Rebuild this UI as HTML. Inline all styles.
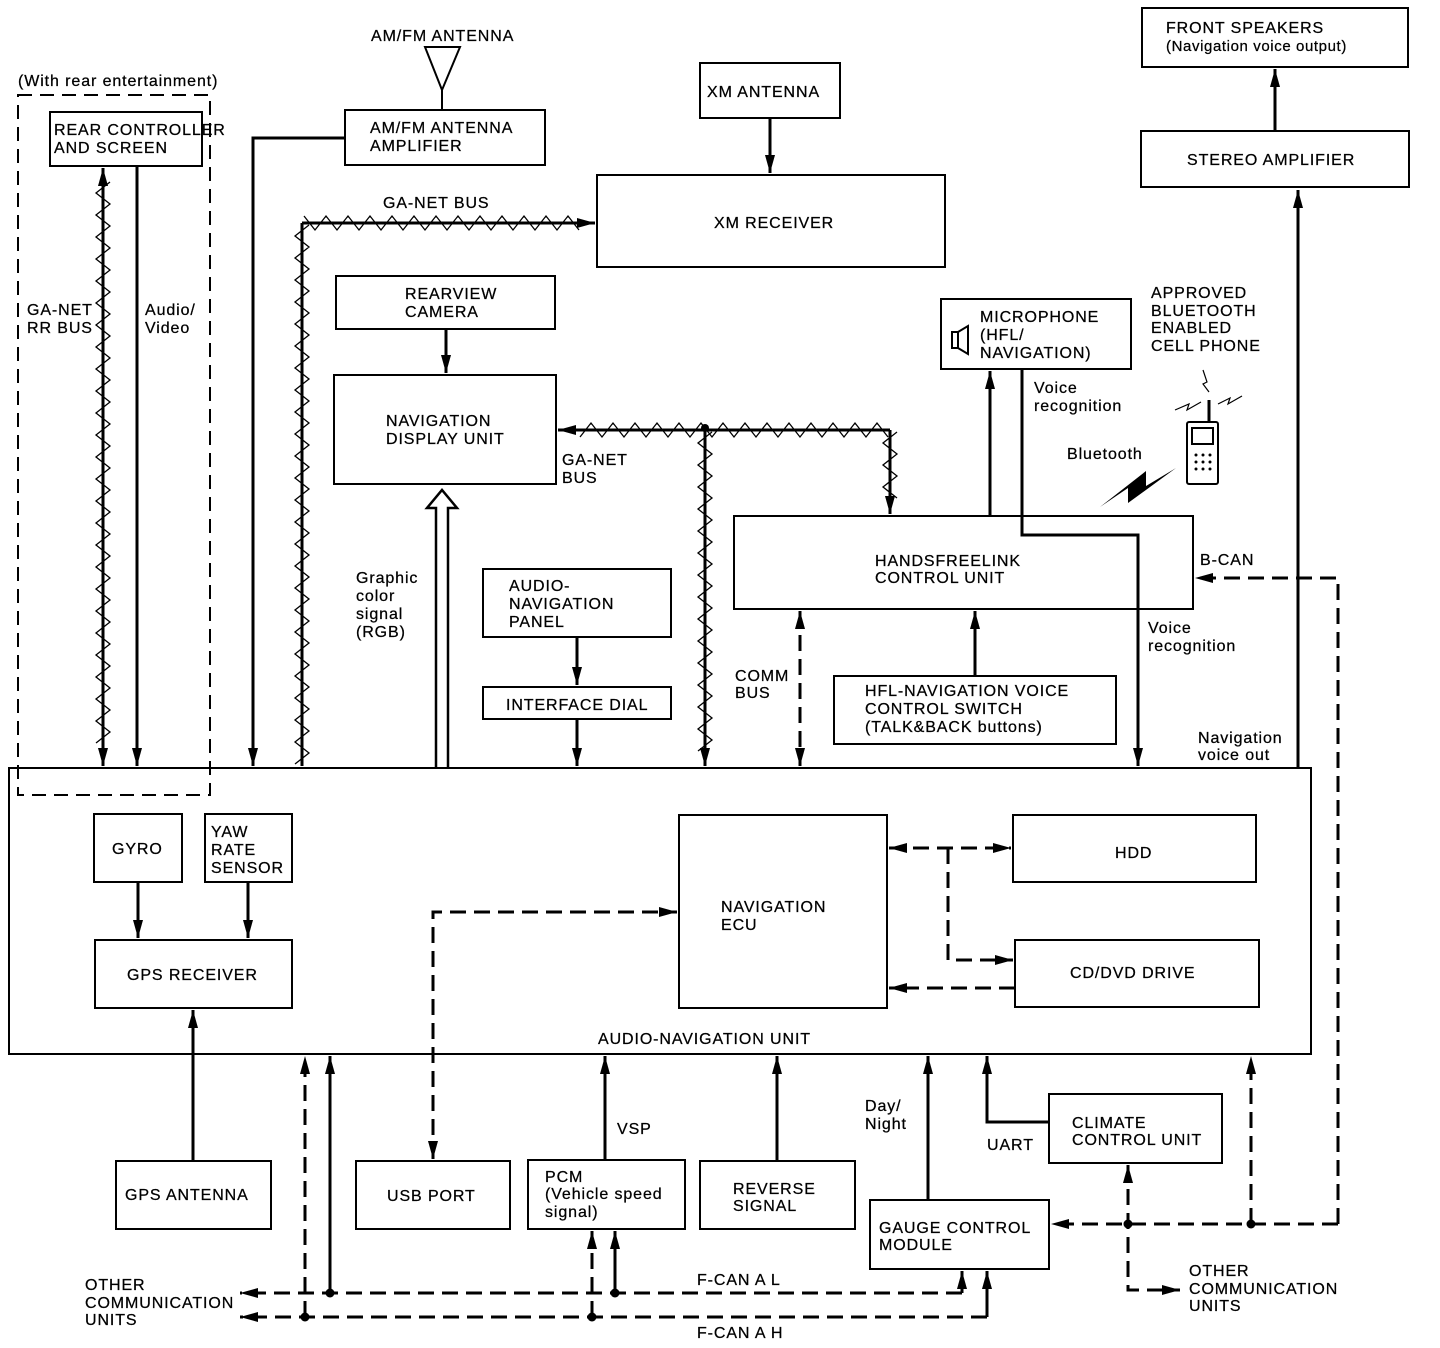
<!DOCTYPE html>
<html><head><meta charset="utf-8"><style>
html,body{margin:0;padding:0;background:#fff}
svg{display:block}
text{font-family:"Liberation Sans",Arial,sans-serif;font-size:16px;fill:#000;letter-spacing:0.9px;stroke:#000;stroke-width:0.25px}
</style></head><body>
<svg id="s" width="1440" height="1348" viewBox="0 0 1440 1348" xmlns="http://www.w3.org/2000/svg">
<defs>
<marker id="b" viewBox="0 0 10 10" refX="10" refY="5" markerWidth="18" markerHeight="10" orient="auto-start-reverse" markerUnits="userSpaceOnUse" preserveAspectRatio="none"><path d="M0,0 L10,5 L0,10 z"/></marker>
</defs>
<g fill="none" stroke="#000" stroke-width="2">
<rect x="345" y="110" width="200" height="55"/>
<rect x="50" y="112" width="152" height="54"/>
<rect x="700" y="63" width="140" height="55"/>
<rect x="597" y="175" width="348" height="92"/>
<rect x="336" y="276" width="219" height="53"/>
<rect x="334" y="375" width="222" height="109"/>
<rect x="483" y="569" width="188" height="68"/>
<rect x="483" y="687" width="188" height="32"/>
<rect x="734" y="516" width="459" height="93"/>
<rect x="834" y="676" width="282" height="68"/>
<rect x="941" y="299" width="190" height="70"/>
<rect x="1142" y="8" width="266" height="59"/>
<rect x="1141" y="131" width="268" height="56"/>
<rect x="9" y="768" width="1302" height="286"/>
<rect x="94" y="814" width="88" height="68"/>
<rect x="205" y="814" width="87" height="68"/>
<rect x="95" y="940" width="197" height="68"/>
<rect x="679" y="815" width="208" height="193"/>
<rect x="1013" y="815" width="243" height="67"/>
<rect x="1015" y="940" width="244" height="67"/>
<rect x="116" y="1161" width="155" height="68"/>
<rect x="356" y="1161" width="154" height="68"/>
<rect x="528" y="1160" width="157" height="69"/>
<rect x="700" y="1161" width="155" height="68"/>
<rect x="870" y="1200" width="179" height="69"/>
<rect x="1049" y="1094" width="173" height="69"/>
<path d="M18,95 H210 V795 H18 Z" stroke-dasharray="14,8"/>
<path d="M425,47 H460 L442,90 Z M442,90 V110"/>
<g stroke-width="3">
<path d="M345,138 H253 V766" marker-end="url(#b)"/>
<path d="M137,166 V766" marker-end="url(#b)"/>
<path d="M770,118 V173" marker-end="url(#b)"/>
<path d="M446,329 V373" marker-end="url(#b)"/>
<path d="M577,637 V685" marker-end="url(#b)"/>
<path d="M577,719 V766" marker-end="url(#b)"/>
<path d="M975,676 V611" marker-end="url(#b)"/>
<path d="M990,516 V371" marker-end="url(#b)"/>
<path d="M1022,369 V535 H1138 V766" marker-end="url(#b)"/>
<path d="M1275,131 V69" marker-end="url(#b)"/>
<path d="M1298,768 V190" marker-end="url(#b)"/>
<path d="M138,882 V938" marker-end="url(#b)"/>
<path d="M248,882 V938" marker-end="url(#b)"/>
<path d="M193,1161 V1010" marker-end="url(#b)"/>
<path d="M605,1160 V1056" marker-end="url(#b)"/>
<path d="M777,1161 V1056" marker-end="url(#b)"/>
<path d="M928,1200 V1056" marker-end="url(#b)"/>
<path d="M1049,1122 H987 V1056" marker-end="url(#b)"/>
<path d="M330,1293 V1056" marker-end="url(#b)"/>
<path d="M615,1293 V1231" marker-end="url(#b)"/>
</g>
<g stroke-width="3" stroke-dasharray="16,8">
<path d="M800,611 V766" marker-start="url(#b)" marker-end="url(#b)"/>
<path d="M1338,1224 V578 H1195" marker-end="url(#b)"/>
<path d="M889,848 H1011" marker-start="url(#b)" marker-end="url(#b)"/>
<path d="M948,848 V960 H1013" marker-end="url(#b)"/>
<path d="M1015,988 H889" marker-end="url(#b)"/>
<path d="M433,1159 V912 H677" marker-start="url(#b)" marker-end="url(#b)"/>
<path d="M962,1293 H240" marker-end="url(#b)"/>
<path d="M962,1293 V1271" stroke-dasharray="none" marker-end="url(#b)"/>
<path d="M987,1317 H240" marker-end="url(#b)"/>
<path d="M987,1317 V1271" stroke-dasharray="none" marker-end="url(#b)"/>
<path d="M305,1317 V1056" marker-end="url(#b)"/>
<path d="M592,1317 V1231" marker-end="url(#b)"/>
<path d="M1338,1224 H1051" marker-end="url(#b)"/>
<path d="M1251,1224 V1056" marker-end="url(#b)"/>
<path d="M1128,1165 V1290 H1180" marker-start="url(#b)" marker-end="url(#b)"/>
</g>
<path d="M436,768 V508 H427 L442,490 L457,508 H448 V768" stroke-width="2.5"/>
<path d="M952,332 h6 v16 h-6 z M958,332 l10,-6 v28 l-10,-6"/>
<rect x="1187" y="422" width="31" height="62" rx="2"/>
<rect x="1192" y="428" width="21" height="16"/>
<path d="M1209,400 V422" stroke-width="3"/>
<path d="M1175,410 l14,-6 -2,6 14,-8 M1218,404 l12,-6 -2,6 14,-8 M1203,370 l4,12 -4,2 6,8" stroke-width="1.2"/>
</g>
<g fill="#000">
<path d="M1100,507 L1128,488 L1128,503 L1176,468 L1146,486 L1146,471 Z"/>
<circle cx="705" cy="428" r="4"/>
<circle cx="330" cy="1293" r="4.5"/><circle cx="305" cy="1317" r="4.5"/>
<circle cx="615" cy="1293" r="4.5"/><circle cx="592" cy="1317" r="4.5"/>
<circle cx="1128" cy="1224" r="4.5"/><circle cx="1251" cy="1224" r="4.5"/>
<circle cx="1196" cy="455" r="1.5"/><circle cx="1203" cy="455" r="1.5"/><circle cx="1210" cy="455" r="1.5"/><circle cx="1196" cy="462" r="1.5"/><circle cx="1203" cy="462" r="1.5"/><circle cx="1210" cy="462" r="1.5"/><circle cx="1196" cy="469" r="1.5"/><circle cx="1203" cy="469" r="1.5"/><circle cx="1210" cy="469" r="1.5"/>
</g>
<g id="zz" fill="none" stroke="#000"></g>
<text x="371" y="41">AM/FM ANTENNA</text>
<text x="18" y="86">(With rear entertainment)</text>
<text x="370" y="133">AM/FM ANTENNA</text><text x="370" y="151">AMPLIFIER</text>
<text x="54" y="135">REAR CONTROLLER</text><text x="54" y="153">AND SCREEN</text>
<text x="707" y="97">XM ANTENNA</text>
<text x="714" y="228">XM RECEIVER</text>
<text x="383" y="208">GA-NET BUS</text>
<text x="27" y="315">GA-NET</text><text x="27" y="333">RR BUS</text>
<text x="145" y="315">Audio/</text><text x="145" y="333">Video</text>
<text x="405" y="299">REARVIEW</text><text x="405" y="317">CAMERA</text>
<text x="386" y="426">NAVIGATION</text><text x="386" y="444">DISPLAY UNIT</text>
<text x="562" y="465">GA-NET</text><text x="562" y="483">BUS</text>
<text x="356" y="583">Graphic</text><text x="356" y="601">color</text><text x="356" y="619">signal</text><text x="356" y="637">(RGB)</text>
<text x="509" y="591">AUDIO-</text><text x="509" y="609">NAVIGATION</text><text x="509" y="627">PANEL</text>
<text x="506" y="710">INTERFACE DIAL</text>
<text x="875" y="566">HANDSFREELINK</text><text x="875" y="583">CONTROL UNIT</text>
<text x="735" y="681">COMM</text><text x="735" y="698">BUS</text>
<text x="865" y="696">HFL-NAVIGATION VOICE</text><text x="865" y="714">CONTROL SWITCH</text><text x="865" y="732">(TALK&amp;BACK buttons)</text>
<text x="980" y="322">MICROPHONE</text><text x="980" y="340">(HFL/</text><text x="980" y="358">NAVIGATION)</text>
<text x="1034" y="393">Voice</text><text x="1034" y="411">recognition</text>
<text x="1067" y="459">Bluetooth</text>
<text x="1151" y="298">APPROVED</text><text x="1151" y="316">BLUETOOTH</text><text x="1151" y="333">ENABLED</text><text x="1151" y="351">CELL PHONE</text>
<text x="1166" y="33">FRONT SPEAKERS</text><text x="1166" y="51" style="font-size:15px;letter-spacing:0.6px">(Navigation voice output)</text>
<text x="1187" y="165">STEREO AMPLIFIER</text>
<text x="1200" y="565">B-CAN</text>
<text x="1148" y="633">Voice</text><text x="1148" y="651">recognition</text>
<text x="1198" y="743">Navigation</text><text x="1198" y="760">voice out</text>
<text x="112" y="854">GYRO</text>
<text x="211" y="837">YAW</text><text x="211" y="855">RATE</text><text x="211" y="873">SENSOR</text>
<text x="127" y="980">GPS RECEIVER</text>
<text x="721" y="912">NAVIGATION</text><text x="721" y="930">ECU</text>
<text x="1115" y="858">HDD</text>
<text x="1070" y="978">CD/DVD DRIVE</text>
<text x="598" y="1044">AUDIO-NAVIGATION UNIT</text>
<text x="125" y="1200">GPS ANTENNA</text>
<text x="387" y="1201">USB PORT</text>
<text x="545" y="1182">PCM</text><text x="545" y="1199">(Vehicle speed</text><text x="545" y="1217">signal)</text>
<text x="733" y="1194">REVERSE</text><text x="733" y="1211">SIGNAL</text>
<text x="617" y="1134">VSP</text>
<text x="865" y="1111">Day/</text><text x="865" y="1129">Night</text>
<text x="987" y="1150">UART</text>
<text x="1072" y="1128">CLIMATE</text><text x="1072" y="1145">CONTROL UNIT</text>
<text x="879" y="1233">GAUGE CONTROL</text><text x="879" y="1250">MODULE</text>
<text x="697" y="1285">F-CAN A L</text><text x="697" y="1338">F-CAN A H</text>
<text x="85" y="1290">OTHER</text><text x="85" y="1308">COMMUNICATION</text><text x="85" y="1325">UNITS</text>
<text x="1189" y="1276">OTHER</text><text x="1189" y="1294">COMMUNICATION</text><text x="1189" y="1311">UNITS</text>
</svg>
<script>
var g=document.getElementById('zz'),NS='http://www.w3.org/2000/svg';
function ln(d,w,m1,m2){var p=document.createElementNS(NS,'path');p.setAttribute('d',d);p.setAttribute('stroke-width',w);if(m1)p.setAttribute('marker-start','url(#b)');if(m2)p.setAttribute('marker-end','url(#b)');g.appendChild(p);}
function zz(x1,y1,x2,y2,m1,m2){
 ln('M'+x1+','+y1+' L'+x2+','+y2,3,m1,m2);
 var dx=x2-x1,dy=y2-y1,L=Math.hypot(dx,dy),ux=dx/L,uy=dy/L,nx=-uy,ny=ux,s=m1?14:2,e=L-(m2?14:2),d='',k=0;
 for(var t=s;t<=e;t+=11,k++){var a=(k%2?7:-7);d+=(d?'L':'M')+(x1+ux*t+nx*a).toFixed(1)+','+(y1+uy*t+ny*a).toFixed(1);}
 ln(d,1.3);
}
zz(103,168,103,766,1,1);
zz(302,766,302,223,0,0);
zz(302,223,595,223,0,1);
zz(890,430,558,430,0,1);
zz(890,430,890,514,0,1);
zz(705,430,705,766,0,1);
</script>
</body></html>
